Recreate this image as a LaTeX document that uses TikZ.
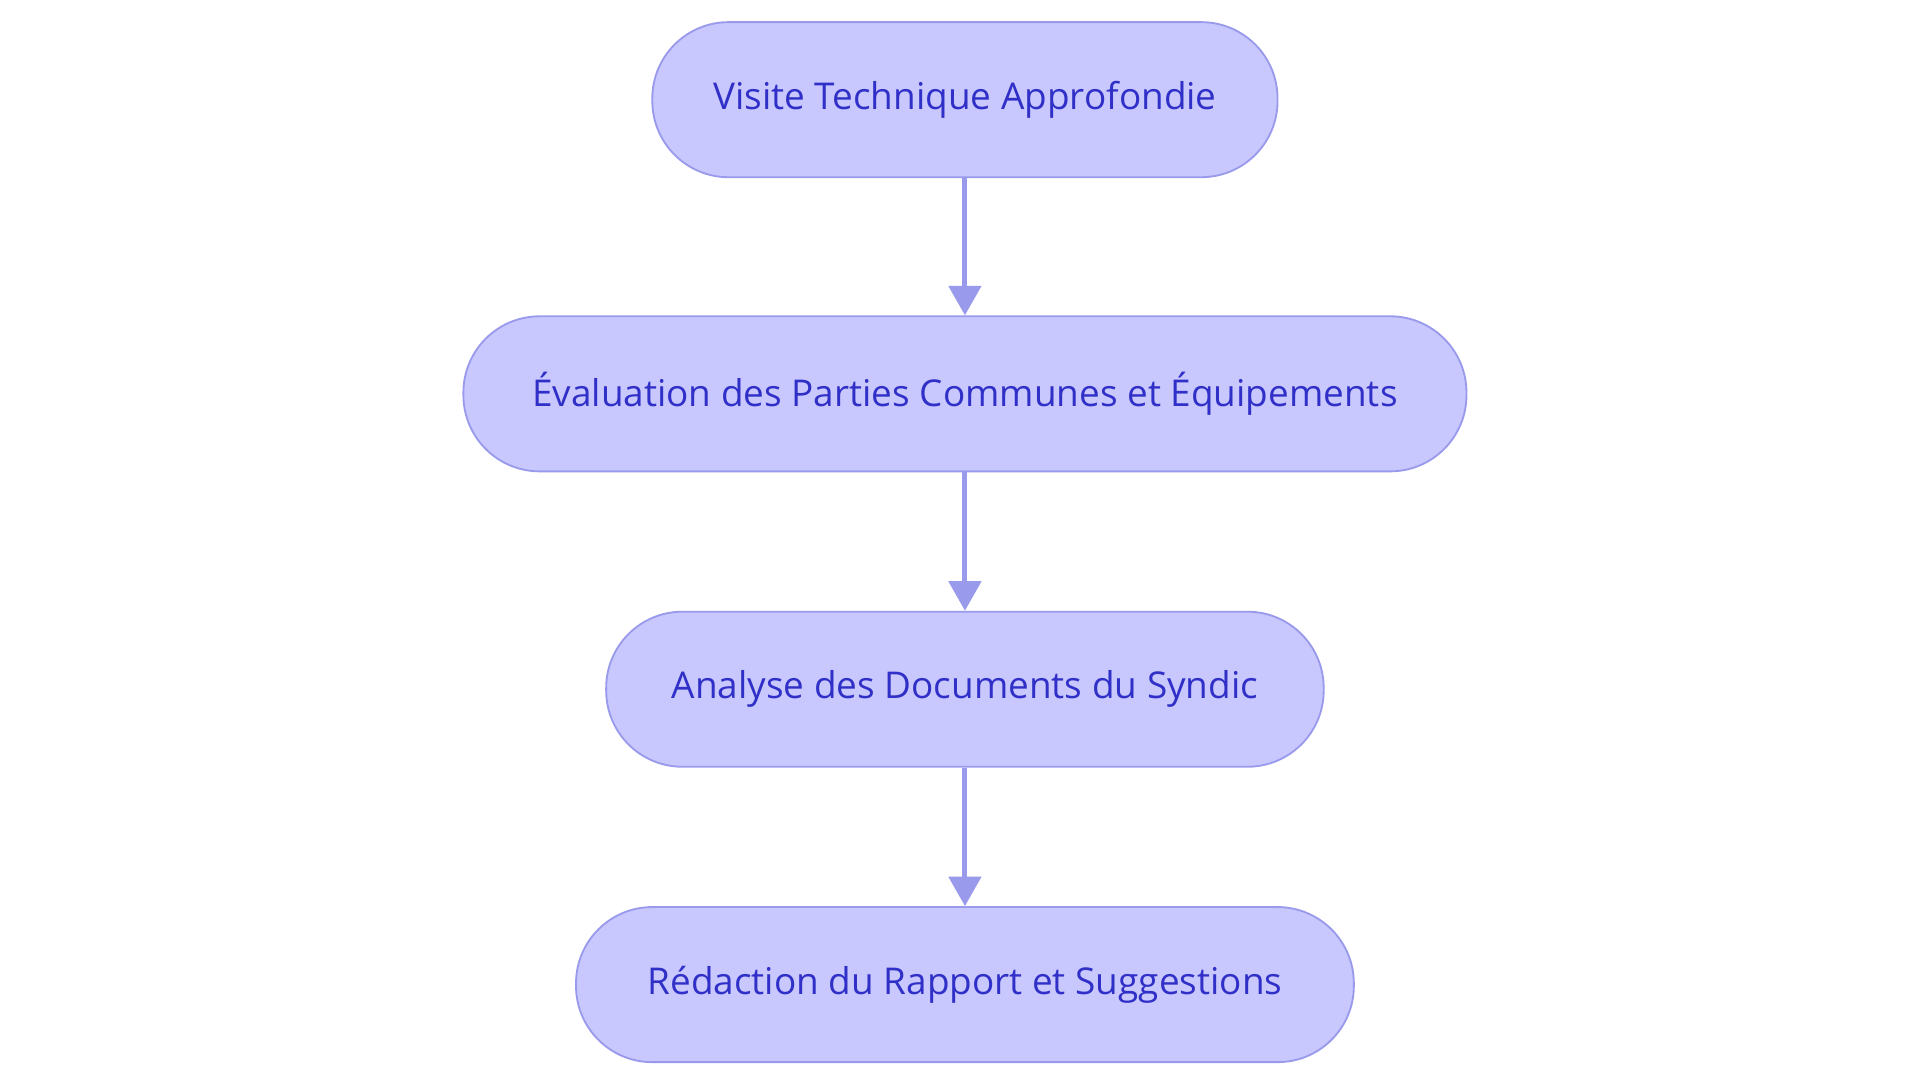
\documentclass[tikz,border=0pt]{standalone}
\usepackage{fontspec}
\setmainfont{Open Sans}
\usetikzlibrary{arrows.meta}
\definecolor{boxfill}{HTML}{C8C8FE}
\definecolor{boxline}{HTML}{9A9AEC}
\definecolor{txt}{HTML}{3030C8}
\begin{document}
\begin{tikzpicture}[x=1pt,y=1pt,
  stepbox/.style={draw=boxline,line width=1.5pt,fill=boxfill,rounded corners=62pt,minimum height=126pt,inner sep=0pt,text=txt,font=\fontsize{30}{34}\selectfont},
  conn/.style={draw=boxline,line width=4pt,-{Triangle[length=24pt,width=26pt]}}]
\useasboundingbox[fill=white] (0,0) rectangle (1560,880);
\node[stepbox,minimum width=508pt] (a) at (784,799) {Visite Technique Approfondie};
\node[stepbox,minimum width=815pt] (b) at (784,560) {Évaluation des Parties Communes et Équipements};
\node[stepbox,minimum width=583pt] (c) at (784,320) {Analyse des Documents du Syndic};
\node[stepbox,minimum width=632pt] (d) at (784,80) {Rédaction du Rapport et Suggestions};
\draw[conn] (a) -- (b);
\draw[conn] (b) -- (c);
\draw[conn] (c) -- (d);
\end{tikzpicture}
\end{document}
